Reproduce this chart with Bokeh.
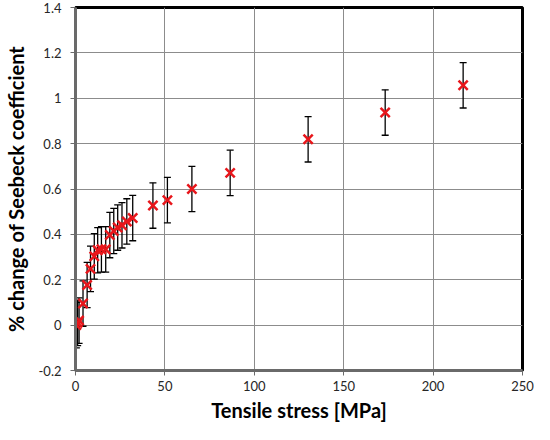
from bokeh.plotting import figure
from bokeh.models import ColumnDataSource, Range1d, FixedTicker, CustomJSTickFormatter
from bokeh.embed import file_html
from bokeh.resources import INLINE

stress = [0.5, 1.2, 2.0, 4.2, 6.5, 8.4, 10.5, 12.4, 14.5, 16.9, 19.2, 21.4, 23.6, 26.0, 28.7, 32.0, 43.3, 51.4, 65.1, 86.5, 130.1, 173.2, 216.8]
change = [0.0, 0.01, 0.02, 0.095, 0.177, 0.248, 0.303, 0.33, 0.334, 0.334, 0.397, 0.415, 0.43, 0.44, 0.457, 0.472, 0.527, 0.551, 0.60, 0.671, 0.819, 0.937, 1.057]
err = [0.1] * len(stress)

x_ticks = [0, 50, 100, 150, 200, 250]
y_ticks = [-0.2, 0, 0.2, 0.4, 0.6, 0.8, 1.0, 1.2, 1.4]

src = ColumnDataSource(dict(
    x=stress, y=change,
    lo=[c - e for c, e in zip(change, err)],
    hi=[c + e for c, e in zip(change, err)],
))

p = figure(width=534, height=424, output_backend="svg", toolbar_location=None,
           x_range=Range1d(0, 250), y_range=Range1d(-0.2, 1.4),
           min_border_left=74, min_border_right=12, min_border_top=7, min_border_bottom=52)

p.background_fill_color = "white"
p.border_fill_color = "white"
p.outline_line_color = "black"
p.outline_line_width = 3

FONT = "Lato"
p.xaxis.ticker = FixedTicker(ticks=x_ticks)
p.yaxis.ticker = FixedTicker(ticks=y_ticks)
p.yaxis.formatter = CustomJSTickFormatter(code="return (Math.round(tick*10)/10).toString();")
p.xaxis.formatter = CustomJSTickFormatter(code="return tick.toString();")

for ax in (p.xaxis, p.yaxis):
    ax.axis_line_color = "#6a6a6a"
    ax.axis_line_width = 3
    ax.major_tick_line_color = "#6a6a6a"
    ax.major_tick_line_width = 1
    ax.major_tick_out = 5
    ax.major_tick_in = 0
    ax.minor_tick_line_color = None
    ax.major_label_text_font = FONT
    ax.major_label_text_font_size = "13px"
    ax.major_label_text_color = "#262626"
    ax.axis_label_text_font = FONT
    ax.axis_label_text_font_style = "bold"
    ax.axis_label_text_font_size = "20px"
    ax.axis_label_text_color = "black"

p.xaxis.axis_label = "Tensile stress [MPa]"
p.yaxis.axis_label = "% change of Seebeck coefficient"
p.xaxis.major_label_standoff = 5
p.xaxis.axis_label_standoff = 4
p.yaxis.major_label_standoff = 9
p.yaxis.axis_label_standoff = 8

p.xgrid.grid_line_color = "#8c8c8c"
p.ygrid.grid_line_color = "#8c8c8c"
p.xgrid.grid_line_width = 1
p.ygrid.grid_line_width = 1

p.segment(x0="x", y0="lo", x1="x", y1="hi", source=src, line_color="black", line_width=1.3)
p.scatter(x="x", y="lo", source=src, marker="dash", size=7, line_color="black", line_width=1.3)
p.scatter(x="x", y="hi", source=src, marker="dash", size=7, line_color="black", line_width=1.3)
p.scatter(x="x", y="y", source=src, marker="x", size=13, line_color="#e8161b", line_width=2.5)

open("out.html", "w").write(file_html(p, INLINE))
